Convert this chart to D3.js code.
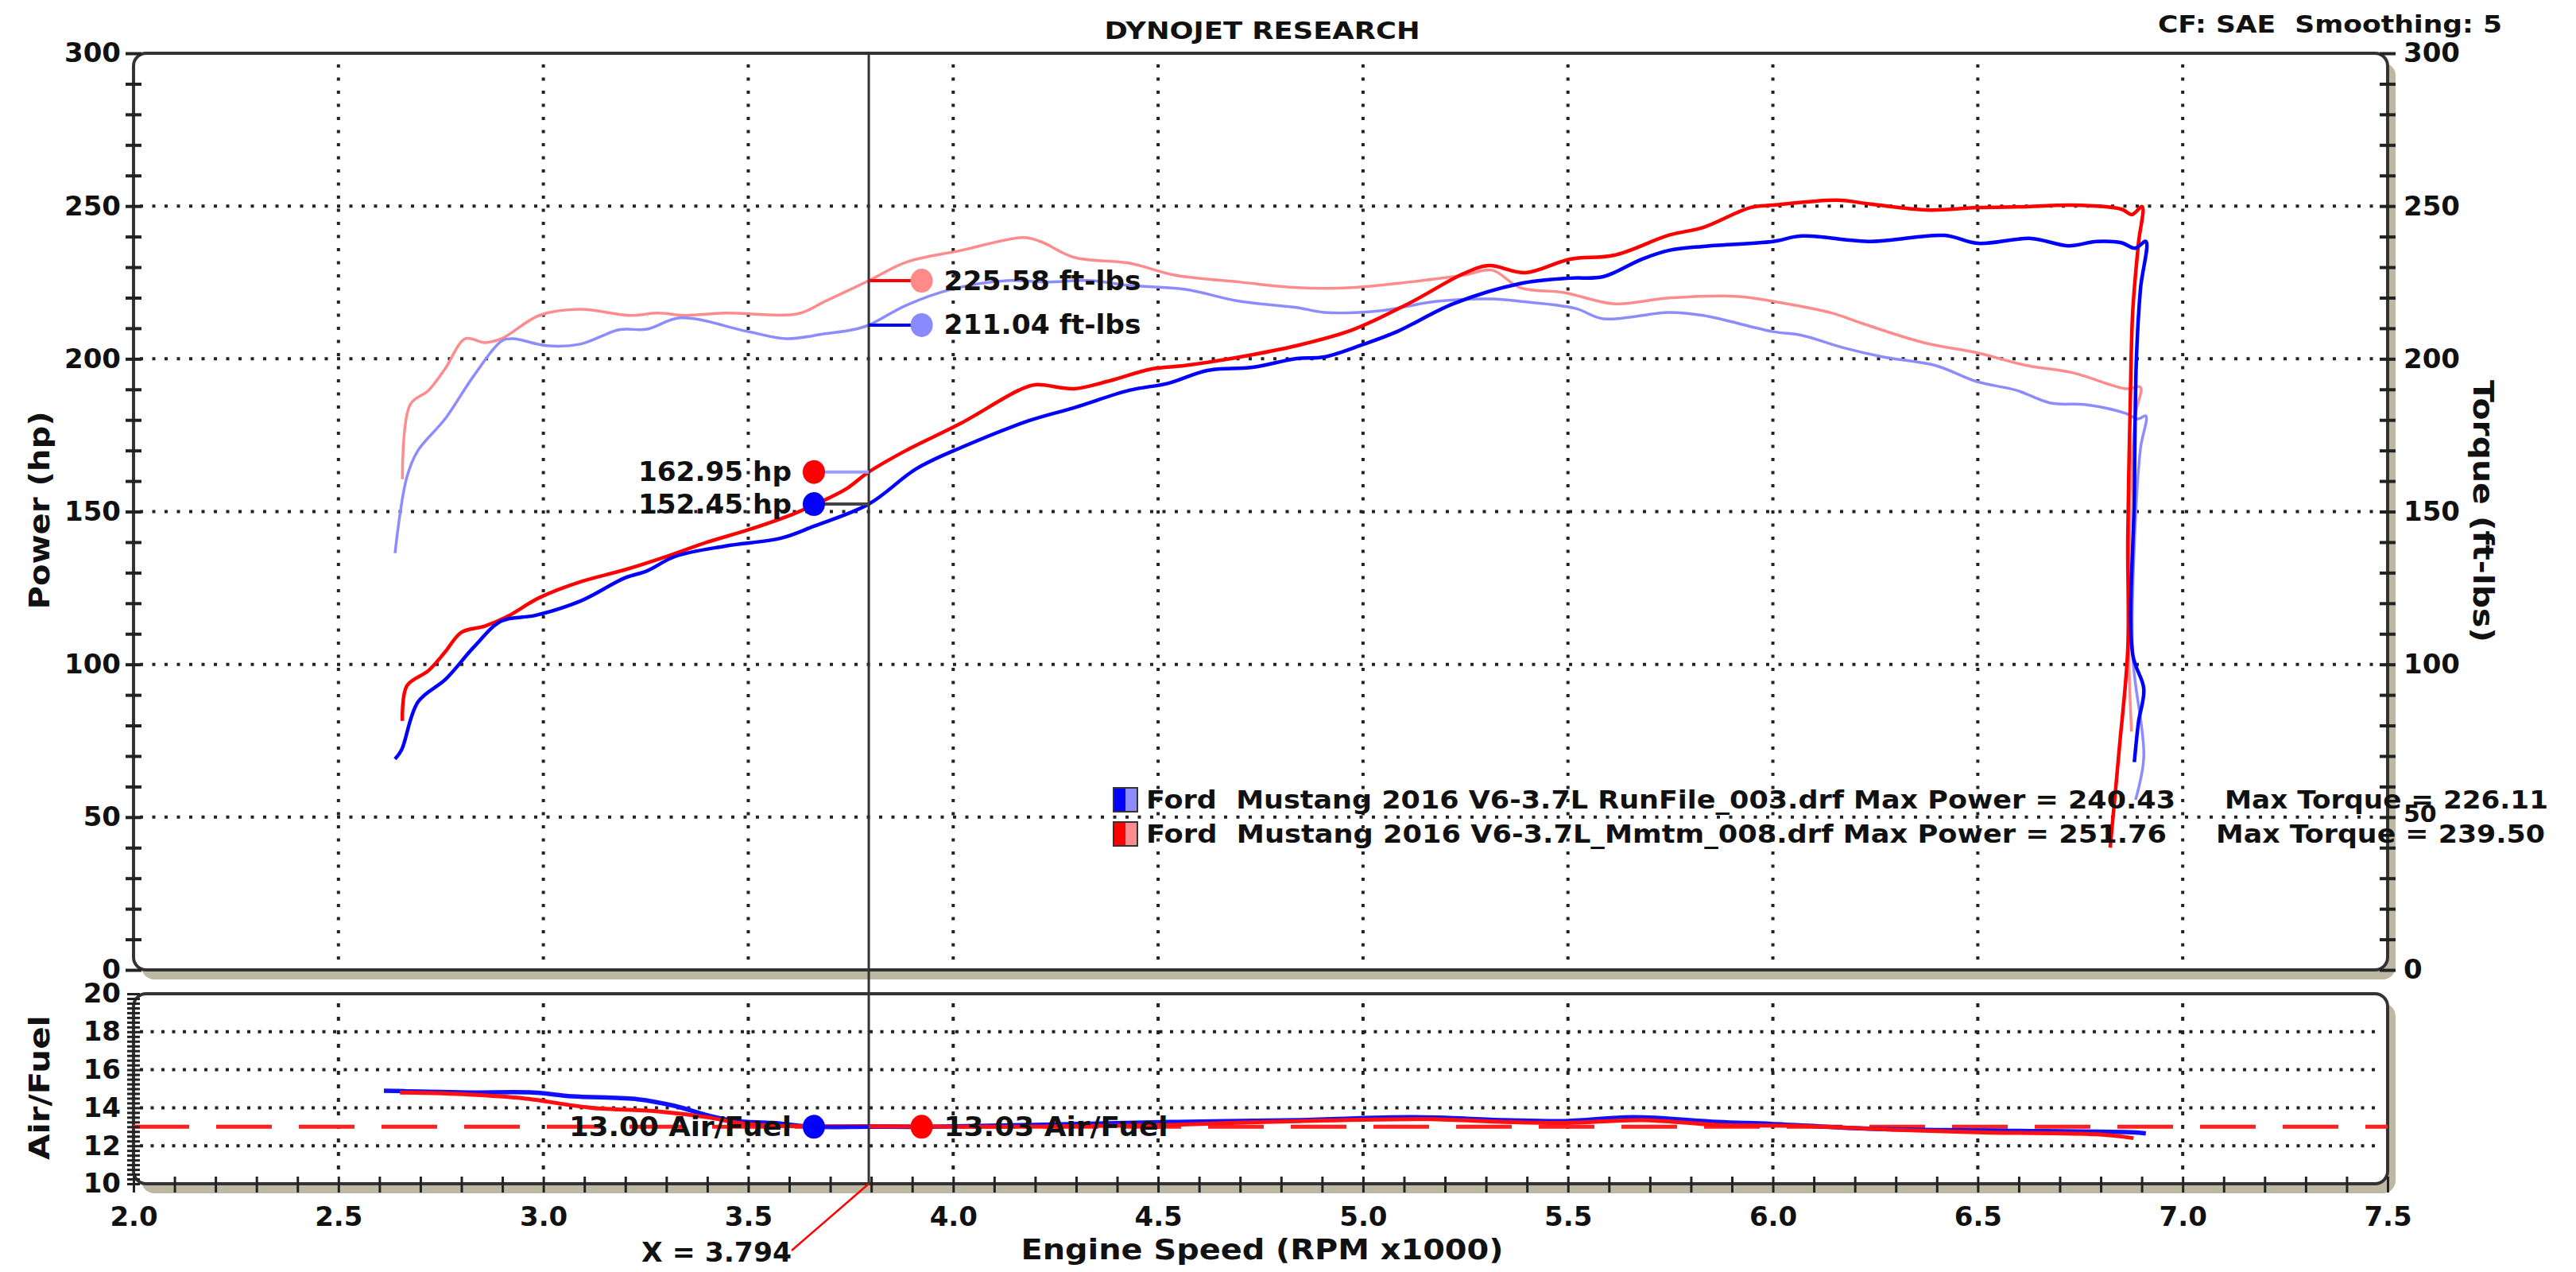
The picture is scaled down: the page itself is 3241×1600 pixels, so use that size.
<!DOCTYPE html>
<html>
<head>
<meta charset="utf-8">
<script src="https://cdn.jsdelivr.net/npm/d3@7"></script>
<style>
  body { margin: 0; background: #fff; }
  svg { display: block; font-family: "DejaVu Sans", Verdana, sans-serif; font-weight: bold; }
  text { white-space: pre; }
</style>
</head>
<body>
<svg width="3241" height="1600"></svg>
<script>
// dyno sheet - power / torque / air-fuel vs engine speed

// [rpm x1000, value] - red = Mmtm_008 run, blue = RunFile_003 run
var redPower = [[2.656,81.5],[2.667,93],[2.72,98],[2.76,104],[2.80,110.5],[2.857,112.5],[2.91,115.5],[2.99,121.8],[3.09,127],[3.20,131],[3.307,135.6],[3.40,140],[3.497,143.9],[3.606,149],[3.674,153],[3.74,157.5],[3.794,162.95],[3.885,170],[4.02,179],[4.16,189.7],[4.2,191.5],[4.295,190.2],[4.376,192.6],[4.485,196.7],[4.566,197.8],[4.70,200.6],[4.838,204.3],[4.973,209.4],[5.11,218],[5.247,228],[5.307,230.5],[5.396,228.2],[5.505,232.6],[5.613,233.9],[5.747,240.5],[5.83,243],[5.945,249.5],[6.0,250.3],[6.156,251.9],[6.24,250.6],[6.38,248.7],[6.50,249.5],[6.62,249.8],[6.73,250.3],[6.85,249],[6.876,247.2],[6.901,249.8],[6.892,237.8],[6.878,215.4],[6.872,185.5],[6.866,140.8],[6.866,105],[6.845,72],[6.823,40]];
var bluePower = [[2.638,69],[2.654,72],[2.694,87.7],[2.762,95.2],[2.83,105.6],[2.898,114.2],[2.98,116],[3.09,120.7],[3.199,128.3],[3.253,130.6],[3.321,135.3],[3.443,138.7],[3.58,141.3],[3.66,145.2],[3.794,152.45],[3.91,164],[4.02,171],[4.186,179.8],[4.295,184],[4.43,189.7],[4.525,192],[4.62,196.2],[4.73,197.2],[4.838,200.1],[4.905,200.6],[5.002,204.8],[5.083,208.9],[5.22,218],[5.383,224.6],[5.505,226.4],[5.586,226.9],[5.68,232.6],[5.747,235.5],[5.83,236.8],[6.0,238.4],[6.07,240.2],[6.24,238.4],[6.418,240.4],[6.50,237.8],[6.63,239.4],[6.72,237],[6.79,238.4],[6.85,238],[6.884,236.2],[6.91,238.4],[6.897,223],[6.887,200],[6.882,155.6],[6.878,103.3],[6.905,92],[6.892,81],[6.882,68]];
var redTorque = [[2.656,160.6],[2.675,185],[2.72,189.7],[2.76,196.7],[2.81,206.6],[2.857,205.3],[2.898,206.6],[2.99,214.2],[3.09,216.2],[3.21,214.2],[3.28,215],[3.348,214.2],[3.443,215],[3.62,214.7],[3.687,218.8],[3.794,225.58],[3.885,231.6],[4.02,235.5],[4.17,239.7],[4.213,238.4],[4.295,233.2],[4.43,231.3],[4.54,227.4],[4.70,225.1],[4.838,223.3],[4.973,223.3],[5.11,225.1],[5.247,227.4],[5.315,229],[5.383,223.3],[5.49,221.7],[5.613,218],[5.747,219.9],[5.916,220.4],[6.0,218.8],[6.143,215],[6.213,211.8],[6.368,205.3],[6.50,201.9],[6.62,197.8],[6.73,195.5],[6.862,190.2],[6.897,190.7],[6.885,182],[6.872,150],[6.868,110],[6.87,95],[6.875,78]];
var blueTorque = [[2.638,136.4],[2.667,161.3],[2.694,170],[2.76,180.3],[2.83,194.4],[2.898,205.8],[2.925,206.6],[3.007,204.3],[3.09,204.8],[3.185,209.5],[3.253,209.7],[3.334,213.4],[3.497,209],[3.592,206.6],[3.687,208.2],[3.755,209.5],[3.794,211.04],[3.885,217.5],[3.994,222.7],[4.13,225.6],[4.227,225.1],[4.335,225.6],[4.43,224],[4.566,222.7],[4.70,218.8],[4.838,216.8],[4.905,215.2],[5.04,215.7],[5.18,218.8],[5.315,219.6],[5.383,218.8],[5.518,216.5],[5.586,213.1],[5.747,215.2],[5.83,214.2],[6.0,208.9],[6.07,207.7],[6.17,203.7],[6.269,200.6],[6.397,197.8],[6.496,192.6],[6.594,189.7],[6.678,185.5],[6.763,185],[6.862,182.1],[6.89,180.3],[6.91,181.3],[6.897,170.7],[6.885,148],[6.878,103],[6.905,69.7],[6.885,55.7]];
var redAfr = [[2.65,14.8],[2.817,14.7],[2.95,14.5],[3.117,14.0],[3.284,13.8],[3.40,13.5],[3.476,13.2],[3.56,13.05],[3.794,13.03],[4.195,13.0],[4.53,13.1],[4.845,13.3],[5.16,13.4],[5.345,13.25],[5.495,13.2],[5.68,13.35],[5.865,13.1],[6.05,13.05],[6.29,12.85],[6.515,12.7],[6.79,12.6],[6.88,12.4]];
var blueAfr = [[2.611,14.9],[2.70,14.85],[2.817,14.8],[2.974,14.8],[3.07,14.6],[3.23,14.45],[3.32,14.1],[3.41,13.55],[3.47,13.3],[3.56,13.2],[3.66,13.0],[3.794,13.0],[3.95,13.0],[4.195,13.1],[4.53,13.25],[4.845,13.35],[5.12,13.5],[5.345,13.35],[5.495,13.3],[5.66,13.5],[5.865,13.25],[5.995,13.15],[6.235,12.9],[6.515,12.8],[6.885,12.7],[6.91,12.65]];

var rpmTicks = [2.0,2.5,3.0,3.5,4.0,4.5,5.0,5.5,6.0,6.5,7.0,7.5];
var powerTicks = [0,50,100,150,200,250,300];
var afrTicks = [10,12,14,16,18,20];
var afrTarget = 13;

// cursor readout
var cursorRpm = 3.794;
var readHp = { red: 162.95, blue: 152.45 };
var readTq = { red: 225.58, blue: 211.04 };
var readAfr = { red: 13.03, blue: 13.00 };
var leftTagRpm = 3.66, rightTagRpm = 3.923;

var legendRows = [
  { name: "Ford  Mustang 2016 V6-3.7L RunFile_003.drf Max Power = 240.43", torque: "Max Torque = 226.11", dark: "#0000ff", light: "#8c8cff" },
  { name: "Ford  Mustang 2016 V6-3.7L_Mmtm_008.drf Max Power = 251.76", torque: "Max Torque = 239.50", dark: "#ff0000", light: "#ff8c8c" }
];

var svg = d3.select("svg");
var x = d3.scaleLinear().domain([2, 7.5]).range([168, 3004]);
var yTop = d3.scaleLinear().domain([0, 300]).range([1220, 67]);
var yAfr = d3.scaleLinear().domain([10, 20]).range([1489, 1250]);

//panels with shadow
function panel(y0, y1) {
  svg.append("rect").attr("x", x(2) + 10).attr("y", y0 + 12)
    .attr("width", x(7.5) - x(2)).attr("height", y1 - y0)
    .attr("rx", 16).attr("fill", "#bdb8a4");
  svg.append("rect").attr("x", x(2)).attr("y", y0)
    .attr("width", x(7.5) - x(2)).attr("height", y1 - y0)
    .attr("rx", 16).attr("fill", "#fff").attr("stroke", "#333").attr("stroke-width", 4);
}
panel(yTop(300), yTop(0));
panel(yAfr(20), yAfr(10));

//grid
var grid = svg.append("g").attr("stroke", "#222").attr("stroke-width", 4);
grid.selectAll(".hg").data([50, 100, 150, 200, 250]).enter().append("line")
  .attr("x1", x(2) + 8).attr("x2", x(7.5) - 8)
  .attr("y1", yTop).attr("y2", yTop)
  .attr("stroke-dasharray", "4,11.5");
grid.selectAll(".vg").data(rpmTicks.slice(1, -1)).enter().append("line")
  .attr("x1", x).attr("x2", x)
  .attr("y1", yTop(300) + 14).attr("y2", yTop(0) - 6)
  .attr("stroke-dasharray", "4,12.5");
grid.selectAll(".hga").data([12, 14, 16, 18]).enter().append("line")
  .attr("x1", x(2) + 8).attr("x2", x(7.5) - 8)
  .attr("y1", yAfr).attr("y2", yAfr)
  .attr("stroke-dasharray", "4,9.5");
grid.selectAll(".vga").data(rpmTicks.slice(1, -1)).enter().append("line")
  .attr("x1", x).attr("x2", x)
  .attr("y1", yAfr(20) + 12).attr("y2", yAfr(10) - 6)
  .attr("stroke-dasharray", "5,12");

//target air/fuel
svg.append("line")
  .attr("x1", x(2)).attr("x2", x(7.5)).attr("y1", yAfr(afrTarget)).attr("y2", yAfr(afrTarget))
  .attr("stroke", "#ff2020").attr("stroke-width", 5).attr("stroke-dasharray", "70,34");

//axes - ticks crossing the frame
function crossTicks(g) {
  g.select(".domain").remove();
  g.selectAll(".tick line").attr("stroke", "#222").attr("stroke-width", 4);
  return g;
}
svg.append("g").attr("transform", "translate(" + x(2) + ",0)")
  .call(d3.axisLeft(yTop).tickValues(d3.range(0, 301, 10)).tickSize(10).tickFormat(""))
  .call(crossTicks).selectAll(".tick line").attr("x1", 10);
svg.append("g").attr("transform", "translate(" + x(7.5) + ",0)")
  .call(d3.axisRight(yTop).tickValues(d3.range(0, 301, 10)).tickSize(10).tickFormat(""))
  .call(crossTicks).selectAll(".tick line").attr("x1", -10);
svg.append("g").attr("transform", "translate(" + x(2) + ",0)")
  .call(d3.axisLeft(yAfr).tickValues(d3.range(10, 20.01, 0.25)).tickSize(8).tickFormat(""))
  .call(crossTicks).selectAll(".tick line").attr("x1", 8).attr("stroke-width", 3);
svg.append("g").attr("transform", "translate(0," + yAfr(10) + ")")
  .call(d3.axisBottom(x).tickValues(d3.range(20, 76).map(function (d) { return d / 10; })).tickSize(11).tickFormat(""))
  .call(crossTicks).selectAll(".tick line").attr("y1", -9).attr("stroke-width", 3);

function labels(g) {
  g.select(".domain").remove();
  g.selectAll("text").attr("fill", "#111").style("font-size", "34px").style("font-weight", "bold")
    .style("font-family", "'DejaVu Sans', sans-serif");
  return g;
}
svg.append("g").attr("transform", "translate(" + x(2) + ",0)")
  .call(d3.axisLeft(yTop).tickValues(powerTicks).tickSize(0).tickPadding(16)).call(labels);
var rAx = svg.append("g").attr("transform", "translate(" + x(7.5) + ",0)")
  .call(d3.axisRight(yTop).tickValues(powerTicks).tickSize(0).tickPadding(20)).call(labels);
rAx.selectAll("text").filter(function (d) { return d === 50; }).attr("dy", "0.2em").style("font-size", "30px");
svg.append("g").attr("transform", "translate(" + x(2) + ",0)")
  .call(d3.axisLeft(yAfr).tickValues(afrTicks).tickSize(0).tickPadding(16)).call(labels);
svg.append("g").attr("transform", "translate(0," + yAfr(10) + ")")
  .call(d3.axisBottom(x).tickValues(rpmTicks).tickSize(0).tickFormat(d3.format(".1f"))).call(labels)
  .selectAll("text").attr("y", 41).attr("dy", "0.35em");

//curves
var curve = d3.curveCatmullRom.alpha(0.5);
var lineTop = d3.line().x(function (d) { return x(d[0]); }).y(function (d) { return yTop(d[1]); }).curve(curve);
var lineAfr = d3.line().x(function (d) { return x(d[0]); }).y(function (d) { return yAfr(d[1]); }).curve(curve);
function path(data, gen, color, w) {
  svg.append("path").attr("d", gen(data)).attr("fill", "none")
    .attr("stroke", color).attr("stroke-width", w).attr("stroke-linejoin", "round");
}
path(redTorque, lineTop, "#ff8c8c", 3.5);
path(blueTorque, lineTop, "#8c8cff", 3.5);
path(redPower, lineTop, "#ff0000", 4.5);
path(bluePower, lineTop, "#0000ff", 4.5);
path(blueAfr, lineAfr, "#1010ff", 5.5);
path(redAfr, lineAfr, "#ff1010", 5);

//cursor
var cx = x(cursorRpm);
svg.append("line").attr("x1", cx).attr("x2", cx).attr("y1", yTop(300)).attr("y2", yAfr(10))
  .attr("stroke", "#333").attr("stroke-width", 3);
svg.append("line").attr("x1", cx).attr("y1", yAfr(10)).attr("x2", 996).attr("y2", 1573)
  .attr("stroke", "#ff0000").attr("stroke-width", 2.5);

// tags: connector, dot, text
function tag(rpm, yv, color, lineColor, txt, side, textW) {
  var px = x(rpm);
  svg.append("line").attr("x1", cx).attr("x2", px).attr("y1", yv).attr("y2", yv)
    .attr("stroke", lineColor).attr("stroke-width", 4);
  svg.append("ellipse").attr("cx", px).attr("cy", yv).attr("rx", 14).attr("ry", 15).attr("fill", color);
  svg.append("text").attr("x", side > 0 ? px + 28 : px - 28).attr("y", yv)
    .attr("dominant-baseline", "central").attr("text-anchor", side > 0 ? "start" : "end")
    .attr("textLength", textW).attr("lengthAdjust", "spacingAndGlyphs")
    .attr("fill", "#111").style("font-size", "33px").text(txt);
}
tag(rightTagRpm, yTop(readTq.red), "#ff8a8a", "#ff0000", readTq.red.toFixed(2) + " ft-lbs", 1, 248);
tag(rightTagRpm, yTop(readTq.blue), "#8a8aff", "#0000ff", readTq.blue.toFixed(2) + " ft-lbs", 1, 248);
tag(leftTagRpm, yTop(readHp.red), "#ff0000", "#9a9aff", readHp.red.toFixed(2) + " hp", -1, 193);
tag(leftTagRpm, yTop(readHp.blue), "#0000ff", "#444", readHp.blue.toFixed(2) + " hp", -1, 193);
svg.append("line").attr("x1", cx).attr("x2", x(rightTagRpm)).attr("y1", yAfr(13)).attr("y2", yAfr(13))
  .attr("stroke", "#1010ff").attr("stroke-width", 4);
tag(leftTagRpm, yAfr(13), "#0000ff", "#1010ff", readAfr.blue.toFixed(2) + " Air/Fuel", -1, 280);
tag(rightTagRpm, yAfr(13), "#ff0000", "#ff1010", readAfr.red.toFixed(2) + " Air/Fuel", 1, 282);

//titles
function txt(s, px, py, size, w, anchor, rot) {
  var t = svg.append("text").attr("dominant-baseline", "central").attr("text-anchor", anchor || "middle")
    .attr("fill", "#111").style("font-size", size + "px").text(s);
  if (w) t.attr("textLength", w).attr("lengthAdjust", "spacingAndGlyphs");
  if (rot) t.attr("transform", "translate(" + px + "," + py + ") rotate(" + rot + ")");
  else t.attr("x", px).attr("y", py);
  return t;
}
txt("DYNOJET RESEARCH", 1588, 38, 31, 397);
txt("CF: SAE  Smoothing: 5", 2715, 30, 31, 433, "start");
txt("Power (hp)", 49, 642, 36, 249, "middle", -90);
txt("Torque (ft-lbs)", 3124, 643, 36, 330, "middle", 90);
txt("Air/Fuel", 49, 1368, 36, 182, "middle", -90);
txt("Engine Speed (RPM x1000)", 1588, 1571, 36, 607);
txt("X = " + cursorRpm.toFixed(3), 807, 1575, 34, 189, "start");

//legend
var leg = svg.append("g");
legendRows.forEach(function (r, i) {
  var ly = 1006 + i * 43;
  leg.append("rect").attr("x", 1401).attr("y", ly - 15).attr("width", 15).attr("height", 30).attr("fill", r.dark);
  leg.append("rect").attr("x", 1416).attr("y", ly - 15).attr("width", 15).attr("height", 30).attr("fill", r.light);
  leg.append("rect").attr("x", 1401).attr("y", ly - 15).attr("width", 30).attr("height", 30)
    .attr("fill", "none").attr("stroke", "#333").attr("stroke-width", 2);
  txt(r.name, 1442, ly, 32, i === 0 ? 1295 : 1284, "start");
  txt(r.torque, i === 0 ? 2799 : 2788, ly, 32, i === 0 ? 407 : 414, "start");
});
</script>
</body>
</html>
